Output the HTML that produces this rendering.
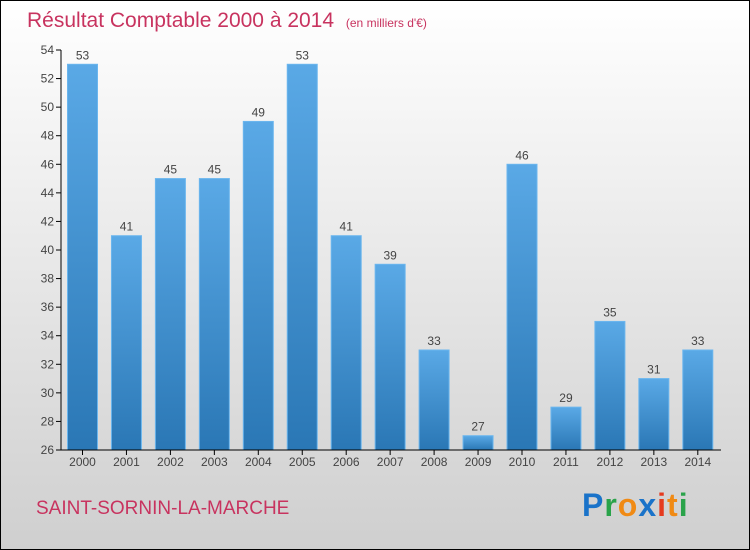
<!DOCTYPE html>
<html><head><meta charset="utf-8"><style>
body{margin:0}
#c{width:748px;height:548px;border:1px solid #000;background:linear-gradient(#ffffff,#cfcfcf);position:relative;font-family:"Liberation Sans",sans-serif;overflow:hidden}
</style></head><body>
<div id="c">
<svg width="748" height="548" viewBox="1 1 748 548" id="s">
<defs><linearGradient id="g" x1="0" y1="0" x2="0" y2="1"><stop offset="0" stop-color="#5aa9e6"/><stop offset="1" stop-color="#2a77b5"/></linearGradient></defs>
<text x="27" y="27" font-size="21" fill="#c8335f">Résultat Comptable 2000 à 2014 <tspan font-size="12" dx="6">(en milliers d'€)</tspan></text>
<text x="36" y="514" font-size="19" fill="#c8335f">SAINT-SORNIN-LA-MARCHE</text>
<g font-size="32" font-weight="bold" font-family="Liberation Sans, sans-serif">
<text x="582" y="516" letter-spacing="1"><tspan fill="#1a73c9">P</tspan><tspan fill="#2aa34a">r</tspan><tspan fill="#f08a14">o</tspan><tspan fill="#1a73c9">x</tspan><tspan fill="#e53a1e">i</tspan><tspan fill="#f08a14">t</tspan><tspan fill="#2aa34a">i</tspan></text></g>
<g id="plot"></g>
</svg></div>
<script>
const years=["2000","2001","2002","2003","2004","2005","2006","2007","2008","2009","2010","2011","2012","2013","2014"];
const values=[53,41,45,45,49,53,41,39,33,27,46,29,35,31,33];
const yTicks=[26,28,30,32,34,36,38,40,42,44,46,48,50,52,54];
const ns="http://www.w3.org/2000/svg",p=document.getElementById('plot');
const y=v=>450-(v-26)*400/28, x=i=>82.5+i*43.95;
function mk(t,a){const e=document.createElementNS(ns,t);for(const k in a)e.setAttribute(k,a[k]);p.appendChild(e);return e;}
yTicks.forEach(t=>{const l=mk('line',{x1:56,x2:61,y1:y(t),y2:y(t),stroke:'#000'});


const tx=mk('text',{x:54,y:y(t)+4,'text-anchor':'end','font-size':12,fill:'#444'});tx.textContent=t;

});
values.forEach((v,i)=>{const r=mk('rect',{x:x(i)-15,y:y(v),width:30,height:450-y(v),fill:'url(#g)',stroke:'#6bb6ee','stroke-width':1});


const t=mk('text',{x:x(i),y:y(v)-5,'text-anchor':'middle','font-size':12,fill:'#444'});t.textContent=v;


const k=mk('line',{x1:x(i),x2:x(i),y1:450,y2:455,stroke:'#000'});


const l=mk('text',{x:x(i),y:466,'text-anchor':'middle','font-size':12,fill:'#444'});l.textContent=years[i];

});
const ya=mk('line',{x1:61,x2:61,y1:50,y2:450,stroke:'#000'});


const xa=mk('line',{x1:61,x2:721,y1:450,y2:450,stroke:'#000'});


</script></body></html>
